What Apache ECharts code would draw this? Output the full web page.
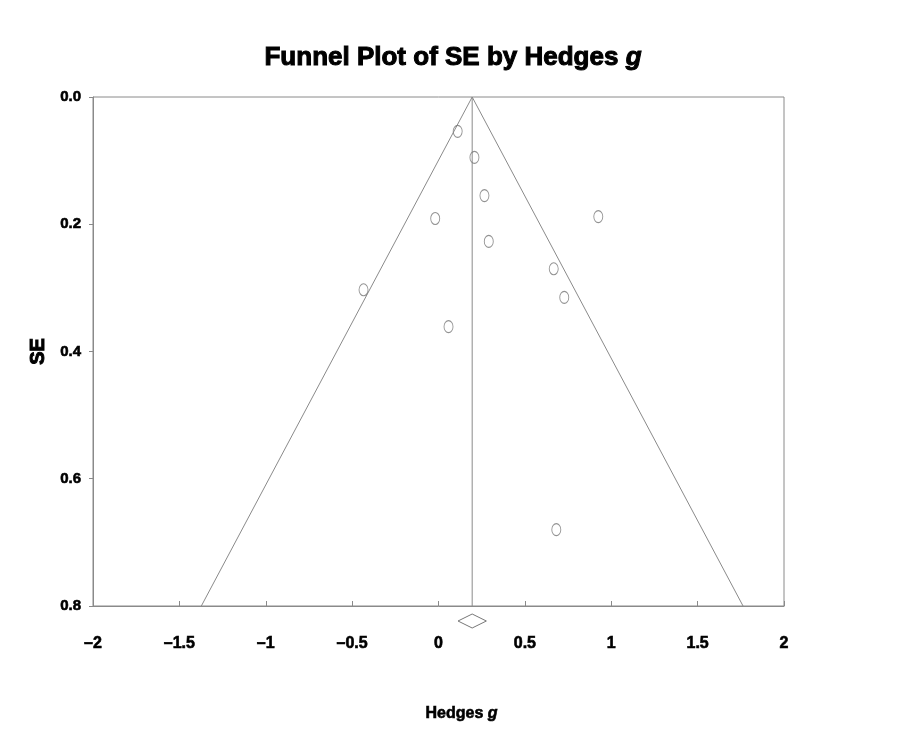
<!DOCTYPE html>
<html>
<head>
<meta charset="utf-8">
<title>Funnel Plot of SE by Hedges g</title>
<script src="https://cdn.jsdelivr.net/npm/echarts@6/dist/echarts.min.js"></script>
<style>
  html, body { margin: 0; padding: 0; background: #ffffff; }
  #chart { width: 906px; height: 749px; }
</style>
</head>
<body>
<div id="chart"></div>
<script>
// Study effect sizes (Hedges g) and their standard errors
var hedgesG    = [0.111, 0.208, 0.266, -0.019, 0.925, 0.291, 0.667, -0.434, 0.728, 0.058, 0.682];
var standardErr = [0.054, 0.095, 0.155, 0.191, 0.188, 0.227, 0.270, 0.303, 0.315, 0.361, 0.680];

// Pooled estimate and its 95% confidence interval
var summaryG = 0.195;
var summaryLow = 0.113;
var summaryHigh = 0.277;
var zCrit = 1.96;

// Axis ranges and tick labels
var xTicks = [-2, -1.5, -1, -0.5, 0, 0.5, 1, 1.5, 2];
var yTicks = [0.0, 0.2, 0.4, 0.6, 0.8];
var seMax = 0.8;

var FONT = '"Liberation Sans", Arial, Helvetica, sans-serif';
var LINE = '#8a8a8a';

var points = hedgesG.map(function (g, i) { return [g, standardErr[i]]; });
var funnel = [
  [summaryG - zCrit * seMax, seMax],
  [summaryG, 0],
  [summaryG + zCrit * seMax, seMax]
];
var centre = [[summaryG, 0], [summaryG, seMax]];

var heavy = function (size, italic) {
  return {
    fontFamily: FONT, fontSize: size, fontWeight: 'bold',
    fontStyle: italic ? 'italic' : 'normal',
    color: '#000', textBorderColor: '#000', textBorderWidth: size > 18 ? 1 : 0.6
  };
};

var chart = echarts.init(document.getElementById('chart'), null, { renderer: 'canvas' });

chart.setOption({
  backgroundColor: '#ffffff',
  animation: false,
  title: {
    text: 'Funnel Plot of SE by Hedges {i|g}',
    left: 'center',
    top: 40,
    textStyle: Object.assign(heavy(26), { rich: { i: heavy(26, true) } })
  },
  grid: {
    left: 93, right: 122, top: 97, bottom: 143,
    show: true, borderColor: LINE, borderWidth: 1, backgroundColor: 'transparent'
  },
  xAxis: {
    type: 'value',
    position: 'bottom',
    min: xTicks[0], max: xTicks[xTicks.length - 1], interval: 0.5,
    name: 'Hedges {i|g}',
    nameLocation: 'middle',
    nameGap: 100,
    nameTextStyle: Object.assign(heavy(16), {
      padding: [0, 0, 0, 46],
      rich: { i: heavy(16, true) }
    }),
    axisLine: { show: true, onZero: false, lineStyle: { color: LINE, width: 1 } },
    axisTick: { show: true, inside: true, length: 5, lineStyle: { color: LINE } },
    splitLine: { show: false },
    axisLabel: Object.assign(heavy(16), {
      margin: 30,
      formatter: function (v) { return String(v).replace('-', '\u2013'); }
    })
  },
  yAxis: {
    type: 'value',
    position: 'left',
    inverse: true,
    min: yTicks[0], max: yTicks[yTicks.length - 1], interval: 0.2,
    name: 'SE',
    nameLocation: 'middle',
    nameRotate: 90,
    nameGap: 32,
    nameTextStyle: heavy(20),
    axisLine: { show: true, onZero: false, lineStyle: { color: LINE, width: 1 } },
    axisTick: { show: true, inside: false, length: 4, lineStyle: { color: LINE } },
    splitLine: { show: false },
    axisLabel: Object.assign(heavy(15), {
      margin: 12,
      formatter: function (v) { return v.toFixed(1); }
    })
  },
  series: [
    {
      name: 'funnel',
      type: 'line',
      data: funnel,
      symbol: 'none',
      lineStyle: { color: LINE, width: 1 },
      silent: true,
      z: 2
    },
    {
      name: 'summary',
      type: 'line',
      data: centre,
      symbol: 'none',
      lineStyle: { color: LINE, width: 1 },
      silent: true,
      z: 2
    },
    {
      name: 'studies',
      type: 'scatter',
      data: points,
      symbol: 'circle',
      symbolSize: [9, 12],
      itemStyle: { color: 'rgba(255,255,255,0)', borderColor: '#777', borderWidth: 1 },
      z: 3
    },
    {
      // pooled estimate diamond, drawn just under the plot frame
      name: 'diamond',
      type: 'custom',
      clip: false,
      data: [[summaryLow, summaryG, summaryHigh]],
      renderItem: function (params, api) {
        var lo = api.coord([api.value(0), seMax]);
        var mid = api.coord([api.value(1), seMax]);
        var hi = api.coord([api.value(2), seMax]);
        var yc = mid[1] + 15;
        return {
          type: 'polygon',
          shape: { points: [[lo[0], yc], [mid[0], yc - 7], [hi[0], yc], [mid[0], yc + 7]] },
          style: { fill: '#fff', stroke: '#777', lineWidth: 1 }
        };
      },
      z: 3
    }
  ]
});
</script>
</body>
</html>
